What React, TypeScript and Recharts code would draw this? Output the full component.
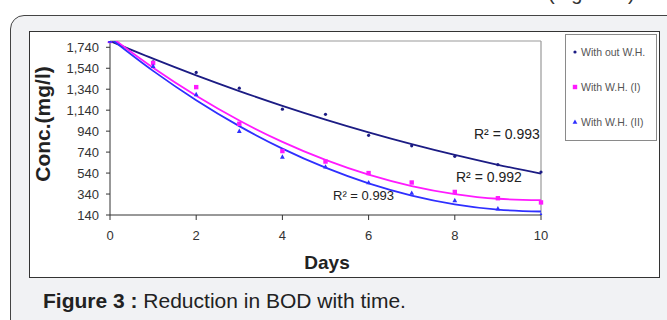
import React from "react";
import { ComposedChart, Line, Scatter, XAxis, YAxis, ReferenceLine } from "recharts";

const days = [0, 1, 2, 3, 4, 5, 6, 7, 8, 9, 10];
const withoutWH = [1800, 1600, 1500, 1350, 1150, 1100, 900, 800, 700, 620, 550];
const withWH1 = [1800, 1590, 1360, 1010, 750, 650, 540, 450, 360, 300, 260];
const withWH2 = [1800, 1560, 1290, 940, 695, 600, 450, 350, 280, 200, 140];
const yTicks = [140, 340, 540, 740, 940, 1140, 1340, 1540, 1740];
const xTicks = [0, 2, 4, 6, 8, 10];
const seriesNames = ["With out W.H.", "With W.H. (I)", "With W.H. (II)"];
const r2Values = ["0.993", "0.992", "0.993"];

const NAVY = "#1c1c84";
const PINK = "#ff1aff";
const BLUE = "#2f2fff";
const FONT = "'Liberation Sans', Arial, sans-serif";

// second order least squares trendline, same as the spreadsheet one
const quadFit = (xs: number[], ys: number[]) => {
  let n = xs.length, sx = 0, sx2 = 0, sx3 = 0, sx4 = 0, sy = 0, sxy = 0, sx2y = 0;
  xs.forEach((x, i) => {
    const y = ys[i];
    sx += x; sx2 += x * x; sx3 += x ** 3; sx4 += x ** 4;
    sy += y; sxy += x * y; sx2y += x * x * y;
  });
  const det = (m: number[][]) =>
    m[0][0] * (m[1][1] * m[2][2] - m[1][2] * m[2][1]) -
    m[0][1] * (m[1][0] * m[2][2] - m[1][2] * m[2][0]) +
    m[0][2] * (m[1][0] * m[2][1] - m[1][1] * m[2][0]);
  const A = [[n, sx, sx2], [sx, sx2, sx3], [sx2, sx3, sx4]];
  const B = [sy, sxy, sx2y];
  const D = det(A);
  const coef = [0, 1, 2].map((c) => det(A.map((row, r) => row.map((v, k) => (k === c ? B[r] : v)))) / D);
  return (x: number) => coef[0] + coef[1] * x + coef[2] * x * x;
};

const toPoints = (vals: number[]) => days.map((d, i) => ({ day: d, value: vals[i] }));
const toTrend = (vals: number[]) => {
  const f = quadFit(days, vals);
  return days.map((d) => ({ day: d, value: f(d) }));
};

const Dot = (p: any) => <circle cx={p.cx} cy={p.cy} r={1.6} fill={NAVY} />;
const Square = (p: any) => <rect x={p.cx - 2.2} y={p.cy - 2.2} width={4.4} height={4.4} fill={PINK} />;
const Tri = (p: any) => (
  <path d={`M${p.cx},${p.cy - 2.6}L${p.cx + 2.4},${p.cy + 1.8}L${p.cx - 2.4},${p.cy + 1.8}Z`} fill={BLUE} />
);

const series = [
  { name: seriesNames[0], vals: withoutWH, color: NAVY, shape: Dot },
  { name: seriesNames[1], vals: withWH1, color: PINK, shape: Square },
  { name: seriesNames[2], vals: withWH2, color: BLUE, shape: Tri },
];

const abs = (s: React.CSSProperties): React.CSSProperties => ({ position: "absolute", ...s });

export default function App() {
  return (
    <div style={{ position: "fixed", left: 0, top: 0, width: 667, height: 320, overflow: "hidden", background: "#fff", fontFamily: FONT }}>
      <div style={abs({ left: 548, top: -17, fontSize: 20, lineHeight: "20px", color: "#333" })}>(Figure 3)</div>
      <div style={abs({ left: 10, top: 15, width: 680, height: 335, background: "#f1f2f4", border: "1.5px solid #444", borderRadius: 14 })} />
      <div style={abs({ left: 29, top: 31, width: 629, height: 245, background: "#fff", border: "1.5px solid #333" })} />

      <div style={abs({ left: 0, top: 0 })}>
        <ComposedChart width={667} height={320} margin={{ top: 41, right: 126, bottom: 75, left: 0 }}>
          <XAxis
            dataKey="day"
            type="number"
            domain={[0, 10]}
            ticks={xTicks}
            interval={0}
            tickSize={5}
            tickMargin={11}
            stroke="#333"
            tick={{ fill: "#333", fontSize: 13, fontFamily: FONT }}
            height={30}
          />
          <YAxis
            dataKey="value"
            type="number"
            domain={[140, 1800]}
            ticks={yTicks}
            interval={0}
            allowDataOverflow
            width={110}
            tickSize={4}
            tickMargin={7}
            stroke="#333"
            tickFormatter={(v: number) => v.toLocaleString("en-US")}
            tick={{ fill: "#333", fontSize: 13, fontFamily: FONT }}
          />
          <ReferenceLine y={1800} stroke="#999" strokeWidth={1.2} />
          <ReferenceLine x={10} stroke="#999" strokeWidth={1.2} />
          {series.map((s) => (
            <Line
              key={s.name + "-trend"}
              data={toTrend(s.vals)}
              dataKey="value"
              type="monotone"
              stroke={s.color}
              strokeWidth={1.8}
              dot={false}
              activeDot={false}
              isAnimationActive={false}
            />
          ))}
          {series.map((s) => (
            <Scatter key={s.name} name={s.name} data={toPoints(s.vals)} shape={s.shape} isAnimationActive={false} />
          ))}
        </ComposedChart>
      </div>

      <div style={abs({ left: 474, top: 126, fontSize: 14, color: "#222" })}>R² = {r2Values[0]}</div>
      <div style={abs({ left: 456, top: 169, fontSize: 14, color: "#222" })}>R² = {r2Values[1]}</div>
      <div style={abs({ left: 333, top: 188, fontSize: 13, color: "#222" })}>R² = {r2Values[2]}</div>

      <div style={abs({ left: 565, top: 34, width: 90, height: 105, background: "#fff", border: "1.5px solid #8a8a8a" })}>
        {series.map((s, i) => (
          <div key={s.name} style={abs({ left: 5, top: 11 + i * 35, fontSize: 10.5, color: "#555", whiteSpace: "nowrap", display: "flex", alignItems: "center" })}>
            <svg width={8} height={8} style={{ marginRight: 2 }}>
              {s.shape({ cx: 4, cy: 4 })}
            </svg>
            {s.name}
          </div>
        ))}
      </div>

      <div style={abs({ left: 327, top: 263, transform: "translate(-50%,-50%)", fontSize: 19, fontWeight: "bold", color: "#222" })}>Days</div>
      <div style={abs({ left: 43, top: 124, transform: "translate(-50%,-50%) rotate(-90deg)", fontSize: 21, fontWeight: "bold", color: "#222", whiteSpace: "nowrap" })}>
        Conc.(mg/l)
      </div>
      <div style={abs({ left: 43, top: 289, fontSize: 21, color: "#222", whiteSpace: "nowrap" })}>
        <b>Figure 3 :</b> Reduction in BOD with time.
      </div>
    </div>
  );
}
